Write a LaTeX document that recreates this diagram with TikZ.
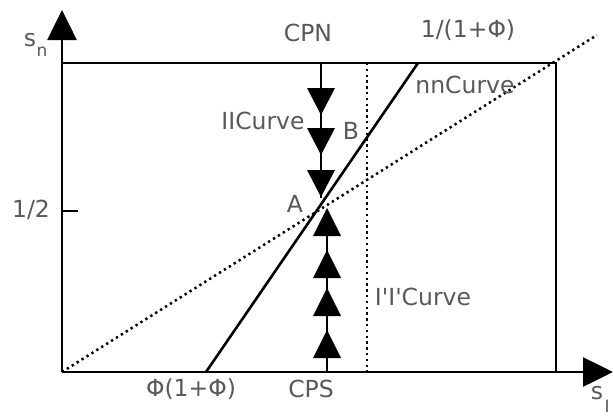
\documentclass[tikz,border=0pt]{standalone}
\usepackage{fontspec}
\newfontfamily\dvfont{DejaVu Sans}
\usetikzlibrary{arrows.meta}
\begin{document}
\begin{tikzpicture}[x=1pt,y=-1pt,
  axis/.style={line width=2.6pt,-{Triangle[length=30pt,width=29pt]}},
  frame/.style={line width=2.6pt},
  solidline/.style={line width=2.6pt},
  dotline/.style={line width=2.5pt,dash pattern=on 2.3pt off 3.5pt},
  tri/.style={fill=black},
  lbl/.style={text=black!65,inner sep=0pt,font=\dvfont\fontsize{23.5}{28}\selectfont},
  sublbl/.style={text=black!65,inner sep=0pt,font=\dvfont\fontsize{17}{20}\selectfont}]
\useasboundingbox (0,0) rectangle (613,415);
% key points
\coordinate (O) at (62,372);
\coordinate (Ytip) at (62,10);
\coordinate (Xtip) at (613,372);
\coordinate (TL) at (62,63);
\coordinate (TR) at (556,63);
\coordinate (BR) at (556,372);
\coordinate (nnB) at (206,372);
\coordinate (nnT) at (418,63);
\coordinate (dEnd) at (597,35);
\coordinate (vT) at (367,63);
\coordinate (vB) at (367,372);
\coordinate (dnT) at (321,63);
\coordinate (dnB) at (321,198);
\coordinate (upB) at (327,372);
\coordinate (upT) at (327,210);
\coordinate (tk1) at (62,211);
\coordinate (tk2) at (78,211);
% frame
\draw[frame] (TL) -- (TR) -- (BR);
\draw[axis] (O) -- (Ytip);
\draw[axis] (O) -- (Xtip);
\draw[frame] (tk1) -- (tk2);
% lines
\draw[dotline] (O) -- (dEnd);
\draw[dotline] (vT) -- (vB);
\draw[solidline] (nnB) -- (nnT);
% down arrows (CPN)
\draw[solidline] (dnT) -- (dnB);
\foreach \b in {88,128,170}{
  \fill[tri] (307,\b) -- (335,\b) -- (321,\b+27) -- cycle;}
% up arrows (CPS)
\draw[solidline] (upB) -- (upT);
\foreach \t in {208,250,288,330}{
  \fill[tri] (327,\t) -- (341,\t+28) -- (313,\t+28) -- cycle;}
% labels
\node[lbl] (sn) at (30,40) {s};
\node[sublbl] (snsub) at (42,52) {n};
\node[lbl] (sI) at (597,393) {s};
\node[sublbl] (sIsub) at (607,406) {I};
\node[lbl] (half) at (31,210) {1/2};
\node[lbl] (cpn) at (308,33) {CPN};
\node[lbl] (phiT) at (468,30) {1/(1+Φ)};
\node[lbl] (nn) at (465,85) {nnCurve};
\node[lbl] (ii) at (263,121) {IICurve};
\node[lbl] (B) at (351,131) {B};
\node[lbl] (A) at (295,204) {A};
\node[lbl] (ipi) at (423,297) {I'I'Curve};
\node[lbl] (phiB) at (191,389) {Φ(1+Φ)};
\node[lbl] (cps) at (311,389) {CPS};
\end{tikzpicture}
\end{document}
